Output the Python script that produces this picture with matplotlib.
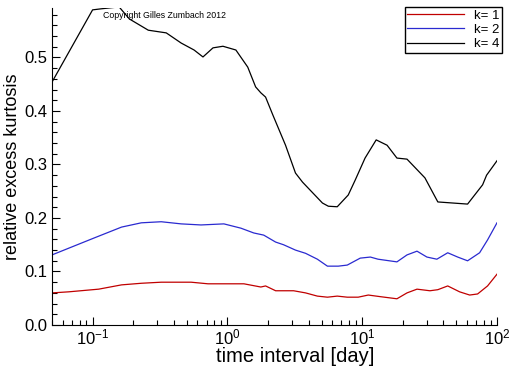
import matplotlib
matplotlib.use("Agg")
import matplotlib.pyplot as plt
from matplotlib.ticker import MultipleLocator, LogLocator

plt.rcParams['font.family'] = ['Liberation Sans', 'DejaVu Sans']

# k = 4
x_k4 = [0.05, 0.10, 0.116, 0.15, 0.158, 0.1875, 0.259, 0.352, 0.454, 0.566, 0.659,
        0.782, 0.927, 1.156, 1.416, 1.62, 1.77, 1.92, 2.17, 2.70, 3.20, 3.61, 5.07,
        5.61, 6.53, 7.88, 8.88, 10.5, 12.7, 15.3, 18.1, 21.5, 29.2, 36.4, 60.5,
        78.2, 83.7, 100]
y_k4 = [0.454, 0.589, 0.591, 0.594, 0.594, 0.572, 0.551, 0.546, 0.527, 0.514, 0.501,
        0.518, 0.521, 0.514, 0.482, 0.445, 0.434, 0.426, 0.393, 0.336, 0.284, 0.267,
        0.228, 0.222, 0.221, 0.243, 0.271, 0.312, 0.346, 0.336, 0.312, 0.310, 0.275,
        0.230, 0.226, 0.262, 0.280, 0.307]

# k = 2
x_k2 = [0.05, 0.1035, 0.164, 0.230, 0.323, 0.454, 0.637, 0.942, 1.259, 1.57, 1.86,
        2.28, 2.61, 3.20, 3.80, 4.65, 5.52, 6.65, 7.75, 9.67, 11.5, 13.1, 18.1,
        21.5, 25.5, 30.2, 35.8, 43.1, 51.1, 60.5, 74.3, 85.1, 100]
y_k2 = [0.131, 0.163, 0.183, 0.191, 0.193, 0.189, 0.187, 0.189, 0.181, 0.172, 0.168,
        0.155, 0.150, 0.140, 0.134, 0.123, 0.110, 0.110, 0.112, 0.125, 0.127, 0.123,
        0.118, 0.131, 0.138, 0.127, 0.123, 0.135, 0.127, 0.120, 0.135, 0.159, 0.191]

# k = 1
x_k1 = [0.05, 0.0665, 0.111, 0.164, 0.230, 0.323, 0.538, 0.718, 1.325, 1.77, 1.92,
        2.28, 3.10, 3.80, 4.65, 5.52, 6.53, 7.75, 9.34, 11.1, 13.6, 18.1, 21.5,
        25.5, 31.8, 36.4, 43.1, 52.8, 62.7, 71.8, 85.1, 100]
y_k1 = [0.060, 0.062, 0.067, 0.075, 0.078, 0.080, 0.080, 0.077, 0.077, 0.071, 0.073,
        0.064, 0.064, 0.060, 0.054, 0.052, 0.054, 0.052, 0.052, 0.056, 0.053, 0.049,
        0.060, 0.067, 0.064, 0.066, 0.073, 0.062, 0.056, 0.058, 0.073, 0.095]

fig = plt.figure(figsize=(5.12, 3.66), dpi=100)
ax = fig.add_axes([52 / 512, 1 - 325 / 366, 445 / 512, 317 / 366])

ax.plot(x_k1, y_k1, color='#c00000', lw=0.9, label='k= 1')
ax.plot(x_k2, y_k2, color='#2a2ad0', lw=0.9, label='k= 2')
ax.plot(x_k4, y_k4, color='black', lw=0.9, label='k= 4')

ax.set_xscale('log')
ax.set_xlim(0.05, 100)
ax.set_ylim(0, 0.5925)
ax.yaxis.set_major_locator(MultipleLocator(0.1))
ax.yaxis.set_minor_locator(MultipleLocator(0.02))
ax.xaxis.set_minor_locator(LogLocator(subs=range(2, 10)))
ax.yaxis.set_major_formatter(matplotlib.ticker.FormatStrFormatter('%.1f'))

for s in ['top', 'right']:
    ax.spines[s].set_visible(False)
ax.tick_params(which='both', direction='in', labelsize=12, width=0.8)
ax.tick_params(which='major', length=6)
ax.tick_params(which='minor', length=3.5)
ax.tick_params(axis='x', pad=2)

ax.set_xlabel('time interval [day]', fontsize=14.5, va='center')
ax.xaxis.set_label_coords(0.546, -0.098)
ax.set_ylabel('relative excess kurtosis', fontsize=13, labelpad=2)

ax.text(0.115, 0.975, 'Copyright Gilles Zumbach 2012', transform=ax.transAxes,
        fontsize=6.3, va='center', ha='left')

leg = ax.legend(loc='upper right', bbox_to_anchor=(502 / 512, 1 - 7 / 366),
                bbox_transform=fig.transFigure, fancybox=False, framealpha=1,
                edgecolor='black', fontsize=9.5, handlelength=4.3,
                borderpad=0.2, labelspacing=0.15, handletextpad=0.75,
                borderaxespad=0)
leg.get_frame().set_linewidth(1)

fig.savefig('out.png', dpi=100)
